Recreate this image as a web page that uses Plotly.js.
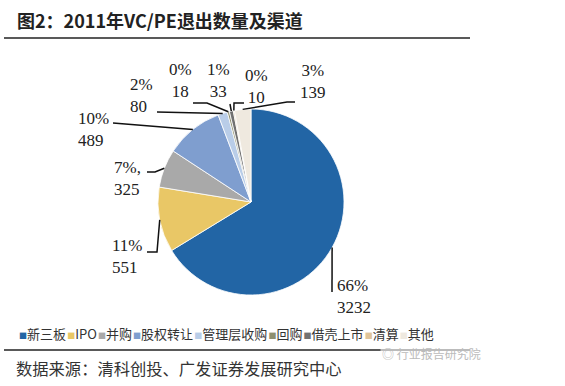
<!DOCTYPE html>
<html><head><meta charset="utf-8">
<script src="https://cdn.plot.ly/plotly-3.0.1.min.js"></script>
<style>html,body{margin:0;padding:0;background:#fff;}#chart{width:565px;height:386px;}</style>
</head><body><div id="chart"></div>
<script>
// ---- data ----
var categories = ['新三板','IPO','并购','股权转让','管理层收购','回购','借壳上市','清算','其他'];
var counts = [3232, 551, 325, 489, 80, 18, 33, 10, 139];
var percentLabels = ['66%','11%','7%,','10%','2%','0%','1%','0%','3%'];
var colors = ['#2265a5','#e9c766','#a9a9a9','#7f9ecf','#b9cde8','#8e9070','#717171','#e0c49a','#efe9df'];

// ---- geometry / style ----
var W = 565, H = 386;
var CX = 251, CY = 202, R = 93;
var labelStyle = [
  {tx:335, ty:296, xa:'left',   elbows:[[332,292]]},
  {tx:145, ty:256, xa:'right',  elbows:[[157,252],[147,252]]},
  {tx:112, ty:178, xa:'left',   elbows:[[155,172],[147,172]]},
  {tx:111, ty:129, xa:'right',  elbows:[[113,123]]},
  {tx:155, ty:95,  xa:'right',  elbows:[[157,112]]},
  {tx:180, ty:81,  xa:'center', elbows:[[207,103],[193,103]]},
  {tx:218, ty:81,  xa:'center', elbows:[[230,104]]},
  {tx:256, ty:86,  xa:'center', elbows:[[234,103],[244,103]]},
  {tx:313, ty:82,  xa:'center', elbows:[[287,102],[295,102]]}
];
function px(x){return x / W;}
function py(y){return 1 - y / H;}

var total = counts.reduce(function(a,b){return a+b;},0);
var annotations = [], shapes = [];
var cum = 0;
for (var i = 0; i < counts.length; i++) {
  var mid = (cum + counts[i] / 2) / total * 2 * Math.PI;
  cum += counts[i];
  var p = [CX + R * Math.sin(mid), CY - R * Math.cos(mid)];
  var s = labelStyle[i];
  var path = 'M' + px(p[0]) + ',' + py(p[1]);
  s.elbows.forEach(function(e){ path += ' L' + px(e[0]) + ',' + py(e[1]); });
  shapes.push({type:'path', xref:'paper', yref:'paper', path:path, line:{color:'#111', width:1.5}});
  annotations.push({xref:'paper', yref:'paper', x:px(s.tx), y:py(s.ty), xanchor:s.xa, yanchor:'middle',
    align:s.xa === 'center' ? 'center' : 'left', showarrow:false,
    text: percentLabels[i] + '<br>' + counts[i],
    font:{family:'Liberation Serif, DejaVu Serif, serif', size:17, color:'#222'}});
}

// legend built from categories
var legendText = categories.map(function(c, i){
  return '<span style="color:' + colors[i] + ';font-size:8px">■</span>' + c;
}).join('<span style="font-size:5px"> </span>');
annotations.push({xref:'paper', yref:'paper', x:px(17), y:py(333), xanchor:'left', yanchor:'middle',
  showarrow:false, text:legendText, font:{family:'Noto Sans CJK SC, sans-serif', size:13, color:'#333'}});

// title, source, watermark
annotations.push({xref:'paper', yref:'paper', x:px(15), y:py(20), xanchor:'left', yanchor:'middle',
  showarrow:false, text:'<b>图2：2011年VC/PE退出数量及渠道</b>',
  font:{family:'Noto Sans CJK SC, sans-serif', size:18, color:'#222'}});
annotations.push({xref:'paper', yref:'paper', x:px(14), y:py(368), xanchor:'left', yanchor:'middle',
  showarrow:false, text:'数据来源：清科创投、广发证券发展研究中心',
  font:{family:'Noto Sans CJK SC, sans-serif', size:16.3, color:'#333'}});
annotations.push({xref:'paper', yref:'paper', x:px(380), y:py(353), xanchor:'left', yanchor:'middle',
  showarrow:false, text:'◎ 行业报告研究院', bgcolor:'rgba(255,255,255,0.6)',
  font:{family:'Noto Sans CJK SC, sans-serif', size:12, color:'#bbb'}});

shapes.push({type:'line', xref:'paper', yref:'paper', x0:px(4), x1:px(470), y0:py(38), y1:py(38), line:{color:'#222', width:1.5}});
shapes.push({type:'line', xref:'paper', yref:'paper', x0:px(4), x1:px(470), y0:py(350), y1:py(350), line:{color:'#222', width:1.5}});

var trace = {
  type:'pie', labels:categories, values:counts, sort:false, direction:'clockwise', rotation:0,
  textinfo:'none', hoverinfo:'label+value+percent',
  marker:{colors:colors, line:{color:'#fff', width:0.8}},
  domain:{x:[px(CX - R), px(CX + R)], y:[py(CY + R), py(CY - R)]},
  showlegend:false
};

var layout = {
  width:W, height:H, margin:{l:0, r:0, t:0, b:0},
  paper_bgcolor:'#fff', plot_bgcolor:'#fff',
  showlegend:false, annotations:annotations, shapes:shapes
};
Plotly.newPlot('chart', [trace], layout, {displayModeBar:false, staticPlot:true});
</script>
</body></html>
